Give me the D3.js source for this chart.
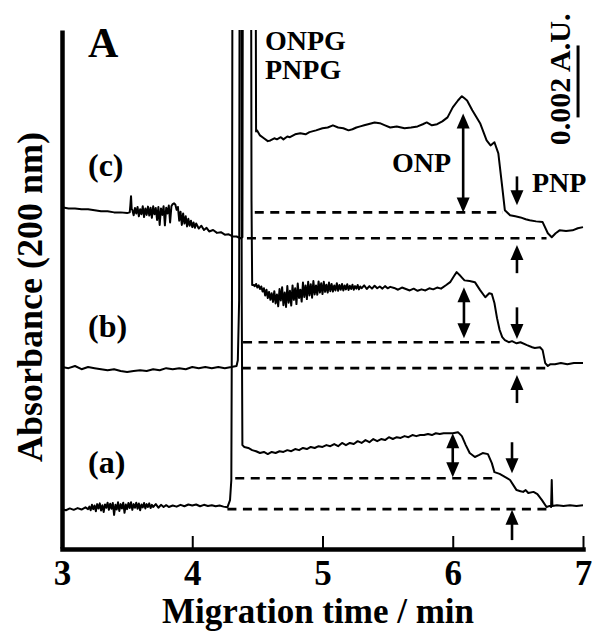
<!DOCTYPE html>
<html>
<head>
<meta charset="utf-8">
<script src="https://cdn.jsdelivr.net/npm/d3@7.9.0/dist/d3.min.js"></script>
<style>
  body { margin: 0; background: #fff; }
  svg { display: block; }
  text { font-family: "Liberation Serif", "Times New Roman", serif; font-weight: bold; fill: #000; }
</style>
</head>
<body>
<svg id="chart" width="592" height="631"></svg>
<script>
// migration time (min), absorbance (mAU, arbitrary offset per trace)
// peaks beyond the frame are given as 20 and get clipped
const traceA = [
  [3.00,1.08],[3.03,1.05],[3.06,1.10],[3.09,1.06],[3.12,1.11],[3.15,1.07],[3.18,1.13],[3.20,1.08],
  [3.21,1.15],[3.22,1.05],[3.23,1.20],[3.24,1.08],[3.25,1.18],[3.26,1.02],[3.27,1.22],[3.28,1.10],
  [3.29,1.24],[3.30,1.04],[3.31,1.19],[3.32,1.00],[3.33,1.21],[3.34,1.12],[3.35,1.26],[3.36,1.06],
  [3.37,1.23],[3.38,1.09],[3.39,1.25],[3.40,0.92],[3.41,1.20],[3.42,1.07],[3.43,1.27],[3.44,1.03],
  [3.45,1.22],[3.46,1.10],[3.47,1.26],[3.48,0.98],[3.49,1.21],[3.50,1.08],[3.51,1.25],[3.52,1.11],
  [3.53,1.27],[3.54,1.06],[3.55,1.22],[3.56,1.12],[3.57,1.26],[3.58,1.09],[3.59,1.24],[3.60,1.05],
  [3.61,1.21],[3.62,1.13],[3.63,1.25],[3.64,1.10],[3.65,1.22],[3.66,1.14],[3.67,1.24],[3.68,1.11],
  [3.69,1.20],[3.70,1.14],[3.72,1.22],[3.74,1.12],[3.76,1.20],[3.78,1.14],[3.80,1.19],[3.82,1.14],
  [3.85,1.18],[3.88,1.15],[3.91,1.20],[3.94,1.16],[3.97,1.21],[4.00,1.18],[4.03,1.21],[4.06,1.16],
  [4.09,1.20],[4.12,1.17],[4.15,1.19],[4.18,1.16],[4.21,1.18],[4.24,1.15],[4.27,1.13],[4.29,1.33],
  [4.30,1.89],[4.305,6.89],[4.31,20],[4.375,20],[4.38,6.89],[4.385,2.86],[4.40,2.81],[4.43,2.78],
  [4.46,2.72],[4.49,2.69],[4.52,2.64],[4.55,2.67],[4.58,2.61],[4.61,2.67],[4.64,2.64],[4.67,2.69],
  [4.70,2.67],[4.73,2.72],[4.76,2.69],[4.79,2.75],[4.82,2.72],[4.85,2.78],[4.88,2.75],[4.91,2.81],
  [4.94,2.78],[4.97,2.83],[5.00,2.81],[5.03,2.86],[5.06,2.83],[5.09,2.89],[5.12,2.83],[5.15,2.92],
  [5.18,2.86],[5.21,2.92],[5.24,2.89],[5.27,2.97],[5.30,2.92],[5.33,3.00],[5.36,2.94],[5.39,3.03],
  [5.42,2.97],[5.45,3.03],[5.48,3.00],[5.51,3.08],[5.54,3.03],[5.57,3.08],[5.60,3.06],[5.63,3.11],
  [5.66,3.08],[5.69,3.14],[5.72,3.11],[5.75,3.14],[5.78,3.14],[5.81,3.17],[5.84,3.14],[5.87,3.19],
  [5.90,3.17],[5.93,3.19],[5.96,3.19],[6.00,3.19],[6.04,3.22],[6.07,3.11],[6.10,2.86],[6.13,2.64],
  [6.17,2.53],[6.20,2.58],[6.23,2.64],[6.27,2.61],[6.30,2.36],[6.32,2.11],[6.36,2.06],[6.39,2.00],
  [6.44,1.89],[6.47,1.72],[6.49,1.61],[6.52,1.58],[6.54,1.56],[6.56,1.61],[6.58,1.53],[6.62,1.56],
  [6.65,1.50],[6.685,1.33],[6.72,1.14],[6.745,1.17],[6.755,1.14],[6.76,1.89],[6.765,1.17],[6.80,1.19],
  [6.85,1.17],[6.90,1.19],[6.95,1.17],[7.00,1.19]
];

const traceB = [
  [3.00,5.03],[3.05,5.00],[3.10,5.06],[3.15,4.97],[3.20,5.03],[3.25,5.00],[3.30,4.97],[3.35,4.94],
  [3.40,4.97],[3.45,4.92],[3.50,4.89],[3.55,4.92],[3.60,4.94],[3.65,4.92],[3.70,4.97],[3.75,4.94],
  [3.80,5.00],[3.85,4.97],[3.90,5.00],[3.95,4.97],[4.00,5.03],[4.05,5.00],[4.10,5.03],[4.15,5.00],
  [4.20,5.03],[4.25,5.00],[4.30,5.03],[4.34,5.06],[4.35,5.22],[4.36,6.89],[4.365,20],[4.45,20],
  [4.455,9.67],[4.46,7.31],[4.47,7.31],[4.48,7.28],[4.49,7.34],[4.50,7.24],[4.51,7.30],[4.52,7.20],
  [4.53,7.27],[4.54,7.13],[4.55,7.22],[4.56,7.02],[4.57,7.18],[4.58,6.95],[4.59,7.12],[4.60,6.90],
  [4.61,7.08],[4.62,6.84],[4.63,7.14],[4.64,6.80],[4.65,7.05],[4.66,6.72],[4.67,7.20],[4.68,6.88],
  [4.69,7.25],[4.70,6.75],[4.71,7.10],[4.72,6.70],[4.73,7.28],[4.74,6.82],[4.75,7.15],[4.76,6.74],
  [4.77,7.30],[4.78,6.90],[4.79,7.22],[4.80,6.78],[4.81,7.35],[4.82,6.95],[4.83,7.18],[4.84,6.85],
  [4.85,7.38],[4.86,6.98],[4.87,7.30],[4.88,6.92],[4.89,7.40],[4.90,7.02],[4.91,7.33],[4.92,6.96],
  [4.93,7.42],[4.94,7.05],[4.95,7.30],[4.96,7.04],[4.97,7.41],[4.98,7.10],[4.99,7.36],[5.00,7.06],
  [5.01,7.40],[5.02,7.12],[5.03,7.32],[5.04,7.10],[5.05,7.38],[5.06,7.14],[5.07,7.34],[5.08,7.13],
  [5.09,7.30],[5.10,7.16],[5.11,7.36],[5.12,7.15],[5.13,7.31],[5.14,7.18],[5.15,7.34],[5.16,7.16],
  [5.17,7.30],[5.18,7.19],[5.19,7.33],[5.20,7.17],[5.21,7.29],[5.22,7.20],[5.23,7.32],[5.24,7.18],
  [5.25,7.28],[5.26,7.21],[5.27,7.31],[5.28,7.19],[5.29,7.27],[5.30,7.22],[5.32,7.30],[5.34,7.20],
  [5.36,7.28],[5.38,7.21],[5.40,7.29],[5.42,7.22],[5.44,7.27],[5.46,7.21],[5.48,7.28],[5.50,7.22],
  [5.52,7.26],[5.55,7.23],[5.58,7.18],[5.61,7.24],[5.64,7.20],[5.67,7.16],[5.70,7.21],[5.73,7.15],
  [5.76,7.19],[5.79,7.16],[5.82,7.22],[5.85,7.19],[5.88,7.24],[5.91,7.21],[5.95,7.31],[5.98,7.39],
  [6.01,7.56],[6.03,7.67],[6.06,7.56],[6.09,7.44],[6.13,7.42],[6.17,7.39],[6.21,7.17],[6.25,6.97],
  [6.28,7.08],[6.30,7.06],[6.32,6.81],[6.34,6.39],[6.36,6.06],[6.38,5.86],[6.40,5.78],[6.43,5.72],
  [6.455,5.75],[6.49,5.69],[6.52,5.72],[6.57,5.64],[6.61,5.58],[6.63,5.56],[6.67,5.58],[6.69,5.50],
  [6.71,5.14],[6.73,5.06],[6.75,5.11],[6.785,5.11],[6.83,5.14],[6.88,5.11],[6.93,5.14],[7.00,5.14]
];

const traceC = [
  [3.00,9.47],[3.05,9.44],[3.10,9.44],[3.15,9.42],[3.20,9.42],[3.25,9.39],[3.30,9.36],[3.35,9.36],
  [3.40,9.33],[3.45,9.33],[3.50,9.31],[3.52,9.33],[3.525,9.53],[3.53,9.78],[3.535,9.42],[3.54,9.40],
  [3.55,9.25],[3.56,9.45],[3.57,9.30],[3.58,9.48],[3.59,9.22],[3.60,9.42],[3.61,9.28],[3.62,9.50],
  [3.63,9.20],[3.64,9.44],[3.65,9.26],[3.66,9.49],[3.67,9.24],[3.68,9.46],[3.69,9.18],[3.70,9.50],
  [3.71,9.28],[3.72,9.45],[3.73,9.12],[3.74,9.48],[3.75,8.98],[3.76,9.44],[3.77,9.26],[3.78,9.50],
  [3.79,8.97],[3.80,9.46],[3.81,9.30],[3.82,9.52],[3.83,9.05],[3.84,9.50],[3.85,9.56],[3.86,9.58],
  [3.87,9.55],[3.88,9.40],[3.89,9.48],[3.90,9.10],[3.91,9.35],[3.92,8.98],[3.93,9.30],[3.94,9.02],
  [3.95,9.22],[3.96,8.94],[3.97,9.15],[3.98,8.96],[3.99,9.10],[4.00,8.92],[4.01,9.05],[4.02,8.90],
  [4.03,9.02],[4.05,8.88],[4.07,8.96],[4.09,8.84],[4.11,8.90],[4.13,8.80],[4.16,8.84],[4.19,8.76],
  [4.22,8.78],[4.25,8.71],[4.28,8.72],[4.31,8.66],[4.34,8.66],[4.37,8.61],[4.385,8.64],[4.39,20],
  [4.485,20],[4.49,11.58],[4.497,11.61],[4.52,11.47],[4.55,11.39],[4.58,11.31],[4.60,11.33],[4.63,11.39],
  [4.65,11.36],[4.68,11.42],[4.70,11.36],[4.73,11.44],[4.75,11.42],[4.79,11.50],[4.83,11.53],[4.87,11.50],
  [4.90,11.56],[4.95,11.61],[5.00,11.67],[5.04,11.69],[5.08,11.75],[5.12,11.69],[5.16,11.67],[5.20,11.61],
  [5.23,11.64],[5.26,11.69],[5.29,11.72],[5.32,11.75],[5.35,11.78],[5.40,11.83],[5.44,11.81],[5.48,11.75],
  [5.52,11.69],[5.57,11.72],[5.63,11.67],[5.68,11.69],[5.73,11.72],[5.77,11.78],[5.80,11.83],[5.84,11.75],
  [5.88,11.78],[5.92,11.86],[5.96,11.97],[6.00,12.25],[6.04,12.44],[6.07,12.56],[6.09,12.50],[6.11,12.44],
  [6.15,12.17],[6.21,11.81],[6.26,11.33],[6.29,11.19],[6.32,11.28],[6.35,10.97],[6.38,10.03],[6.40,9.39],
  [6.44,9.25],[6.48,9.22],[6.52,9.19],[6.56,9.14],[6.59,9.11],[6.64,9.08],[6.69,9.06],[6.73,8.75],
  [6.76,8.64],[6.79,8.75],[6.82,8.83],[6.87,8.81],[6.92,8.83],[6.96,8.89],[7.00,8.92]
];

// dashed reference levels: [level, from time, to time]
const levelsA = [[1.94, 4.33, 6.34], [1.08, 4.27, 6.73]];
const levelsB = [[5.72, 4.39, 6.36], [5.00, 4.38, 6.71]];
const levelsC = [[9.33, 4.48, 6.385], [8.61, 4.42, 6.72]];

// ONP height arrows (double headed): [time, top, bottom]
const onpArrows = [[6.00, 3.19, 1.97], [6.086, 7.25, 5.83], [6.08, 12.08, 9.33]];
// PNP arrows (single headed): [time, tail, tip]
const pnpArrows = [
  [6.455, 2.94, 2.08], [6.455, 0.22, 1.06],
  [6.493, 6.69, 5.81], [6.493, 4.03, 4.81],
  [6.493, 10.33, 9.53], [6.493, 7.64, 8.42]
];

const xTicks = [3, 4, 5, 6, 7];
const scaleBar = [6.962, 11.97, 13.97]; // 0.002 A.U. = 2 mAU

const svg = d3.select('#chart');
const x = d3.scaleLinear().domain([3, 7]).range([62, 583]);
const y = d3.scaleLinear().domain([0, 14.4]).range([548, 30]);

svg.append('defs').append('clipPath').attr('id', 'plot')
  .append('rect').attr('x', 62).attr('y', 30).attr('width', 530).attr('height', 520);

const line = d3.line().x(d => x(d[0])).y(d => y(d[1]));
const g = svg.append('g').attr('clip-path', 'url(#plot)');

[traceA, traceB, traceC].forEach(tr => {
  g.append('path')
    .attr('d', line(tr))
    .attr('fill', 'none')
    .attr('stroke', '#000')
    .attr('stroke-width', 2)
    .attr('stroke-linejoin', 'round');
});

[...levelsA, ...levelsB, ...levelsC].forEach(([v, t0, t1]) => {
  svg.append('line')
    .attr('x1', x(t0)).attr('x2', x(t1))
    .attr('y1', y(v)).attr('y2', y(v))
    .attr('stroke', '#000')
    .attr('stroke-width', 2.6)
    .attr('stroke-dasharray', '9,6.5');
});

function head(px, tipY, dir) {
  const hl = 15, hw = 6.5;
  return `M${px},${tipY}L${px - hw},${tipY - dir * hl}L${px + hw},${tipY - dir * hl}Z`;
}

function arrow(t, from, to, double) {
  const px = x(t), y1 = y(from), y2 = y(to);
  const dir = Math.sign(y2 - y1);
  svg.append('line')
    .attr('x1', px).attr('x2', px)
    .attr('y1', double ? y1 + dir * 12 : y1)
    .attr('y2', y2 - dir * 12)
    .attr('stroke', '#000').attr('stroke-width', 2.6);
  svg.append('path').attr('d', head(px, y2, dir)).attr('fill', '#000');
  if (double) svg.append('path').attr('d', head(px, y1, -dir)).attr('fill', '#000');
}

onpArrows.forEach(a => arrow(a[0], a[1], a[2], true));
pnpArrows.forEach(a => arrow(a[0], a[1], a[2], false));

// scale bar
svg.append('line')
  .attr('x1', x(scaleBar[0])).attr('x2', x(scaleBar[0]))
  .attr('y1', y(scaleBar[1])).attr('y2', y(scaleBar[2]))
  .attr('stroke', '#000').attr('stroke-width', 3);
svg.append('text')
  .attr('transform', `translate(570,${(y(scaleBar[1]) + y(scaleBar[2])) / 2 - 2}) rotate(-90)`)
  .attr('text-anchor', 'middle')
  .style('font-size', '30px')
  .text('0.002 A.U.');

// axes
const xAxis = svg.append('g')
  .attr('transform', 'translate(0,549)')
  .call(d3.axisBottom(x).tickValues(xTicks).tickFormat(d3.format('d'))
    .tickSizeInner(-13).tickSizeOuter(0).tickPadding(11));
xAxis.select('.domain').attr('stroke-width', 4.5).attr('stroke-linecap', 'square');
xAxis.selectAll('.tick line').attr('stroke-width', 2);
xAxis.selectAll('.tick text')
  .style('font-family', '"Liberation Serif", serif')
  .style('font-weight', 'bold')
  .style('font-size', '35px');

const yAxis = svg.append('g')
  .attr('transform', 'translate(62,0)')
  .call(d3.axisLeft(y).tickValues([]).tickSizeOuter(0));
yAxis.select('.domain').attr('stroke-width', 4.5);

// labels
svg.append('text').attr('x', 318).attr('y', 623).attr('text-anchor', 'middle')
  .style('font-size', '35px').text('Migration time / min');
svg.append('text')
  .attr('transform', 'translate(42,297) rotate(-90)')
  .attr('text-anchor', 'middle')
  .style('font-size', '36px')
  .text('Absorbance (200 nm)');

svg.append('text').attr('x', 88).attr('y', 57).style('font-size', '42px').text('A');
svg.append('text').attr('x', 265).attr('y', 50).style('font-size', '28px').text('ONPG');
svg.append('text').attr('x', 265).attr('y', 79).style('font-size', '28px').text('PNPG');
svg.append('text').attr('x', 88).attr('y', 176).style('font-size', '32px').text('(c)');
svg.append('text').attr('x', 88).attr('y', 337).style('font-size', '32px').text('(b)');
svg.append('text').attr('x', 88).attr('y', 473).style('font-size', '32px').text('(a)');
svg.append('text').attr('x', 392).attr('y', 172).style('font-size', '28px').text('ONP');
svg.append('text').attr('x', 532).attr('y', 192).style('font-size', '28px').text('PNP');
</script>
</body>
</html>
